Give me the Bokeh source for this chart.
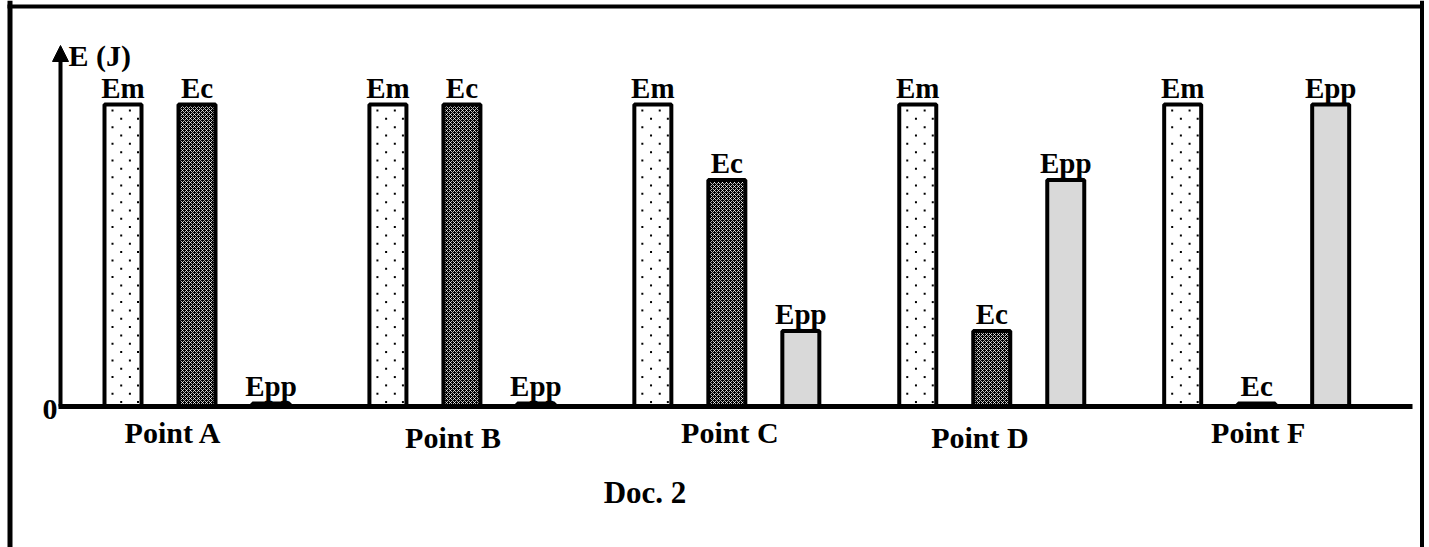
import numpy as np
from bokeh.plotting import figure
from bokeh.models import ColumnDataSource, Range1d, Span, Arrow, NormalHead
from bokeh.core.properties import value
from bokeh.embed import file_html
from bokeh.resources import INLINE

# ---------------- data ----------------
points = ["Point A", "Point B", "Point C", "Point D", "Point F"]
series = ["Em", "Ec", "Epp"]
em_values = [100, 100, 100, 100, 100]
ec_values = [100, 100, 75, 25, 1]
epp_values = [1, 1, 25, 75, 100]
y_label = "E (J)"
zero_label = "0"
caption = "Doc. 2"

# ---------------- layout / style ----------------
W, H = 1429, 547
PX_X = 74.0          # pixels per x unit (bar step)
PX_Y = 3.02          # pixels per energy unit
BASE_PX = 406        # baseline position from top of frame
FIRST_PX = 122.5     # centre of the first bar from left of frame
X0 = -FIRST_PX / PX_X
GROUP_STEP = 3.58
BAR_W = 0.5
FONT = "Liberation Serif"
TXT_UP = 10 / PX_Y   # compensation of svg text baseline
LABEL_GAP = 7 / PX_Y + TXT_UP
point_dx = [-0.32, -0.12, 0.04, -0.16, 0.02]
point_dy = [-36 / PX_Y, -41 / PX_Y, -36 / PX_Y, -41 / PX_Y, -36 / PX_Y]
AXIS_X = (60 - FIRST_PX) / PX_X


def ux(px):
    return X0 + px / PX_X


def uy(px):
    return (BASE_PX - px) / PX_Y


p = figure(width=W, height=H,
           x_range=Range1d(X0, X0 + W / PX_X),
           y_range=Range1d(-(H - BASE_PX) / PX_Y, BASE_PX / PX_Y),
           x_axis_type=None, y_axis_type=None,
           output_backend="svg", toolbar_location=None, min_border=0)
p.grid.visible = False
p.outline_line_color = None
p.background_fill_color = "white"
p.border_fill_color = "white"

gx = np.arange(len(points)) * GROUP_STEP

series_values = [em_values, ec_values, epp_values]
styles = [
    dict(fill_color="white"),
    dict(fill_color="black", hatch_pattern="x", hatch_color="white",
         hatch_scale=4, hatch_weight=1, hatch_alpha=0.75),
    dict(fill_color="#d9d9d9"),
]

for s, (name, vals, st) in enumerate(zip(series, series_values, styles)):
    xs = gx + s
    src = ColumnDataSource(dict(x=xs, top=vals,
                                ly=[v + LABEL_GAP for v in vals],
                                lbl=[name] * len(vals)))
    p.vbar(x="x", top="top", bottom=0, width=BAR_W, source=src,
           line_color="black", line_width=4, **st)
    p.text(x="x", y="ly", text="lbl", source=src,
           text_font=value(FONT), text_font_style="bold", text_font_size="29px",
           text_align="center", text_baseline="alphabetic", text_color="black")

# dotted texture of the Em bars (staggered lattice inside each bar)
dot_x, dot_y = [], []
row_offsets = [[6.0, 23.4], [14.7, 31.5]]
for xc, top in zip(gx, em_values):
    inner_left = xc - BAR_W / 2 + 2 / PX_X
    yv = top - 6 / PX_Y
    r = 0
    while yv > 3 / PX_Y:
        for off in row_offsets[r % 2]:
            dot_x.append(inner_left + off / PX_X)
            dot_y.append(yv)
        yv -= 8.33 / PX_Y
        r += 1
p.scatter(x=dot_x, y=dot_y, marker="square", size=2, fill_color="black", line_color=None)

# baseline (x axis)
p.segment(x0=[ux(58)], y0=[0], x1=[ux(1412)], y1=[0], line_color="black", line_width=5)

# y axis arrow
p.add_layout(Arrow(x_start=AXIS_X, y_start=0, x_end=AXIS_X, y_end=uy(45),
                   line_color="black", line_width=4,
                   end=NormalHead(size=16, fill_color="black", line_color="black", line_width=1)))

# point labels
psrc = ColumnDataSource(dict(x=gx + 1 + np.array(point_dx),
                             y=np.array(point_dy) + TXT_UP, t=points))
p.text(x="x", y="y", text="t", source=psrc,
       text_font=value(FONT), text_font_style="bold", text_font_size="30px",
       text_align="center", text_baseline="alphabetic", text_color="black")

# axis texts
p.text(x=[ux(68)], y=[uy(65) + TXT_UP], text=[y_label],
       text_font=value(FONT), text_font_style="bold", text_font_size="30px",
       text_align="left", text_baseline="alphabetic", text_color="black")
p.text(x=[ux(57)], y=[uy(419) + TXT_UP], text=[zero_label],
       text_font=value(FONT), text_font_style="bold", text_font_size="30px",
       text_align="right", text_baseline="alphabetic", text_color="black")
p.text(x=[ux(644.5)], y=[uy(502) + TXT_UP], text=[caption],
       text_font=value(FONT), text_font_style="bold", text_font_size="31px",
       text_align="center", text_baseline="alphabetic", text_color="black")

# frame border (left, top, right)
p.add_layout(Span(location=ux(9.5), dimension="height", line_color="black", line_width=5))
p.add_layout(Span(location=ux(1421.5), dimension="height", line_color="black", line_width=4))
p.segment(x0=[ux(7)], y0=[uy(6)], x1=[ux(1423.5)], y1=[uy(6)], line_color="black", line_width=4)

open("out.html", "w").write(file_html(p, INLINE))
